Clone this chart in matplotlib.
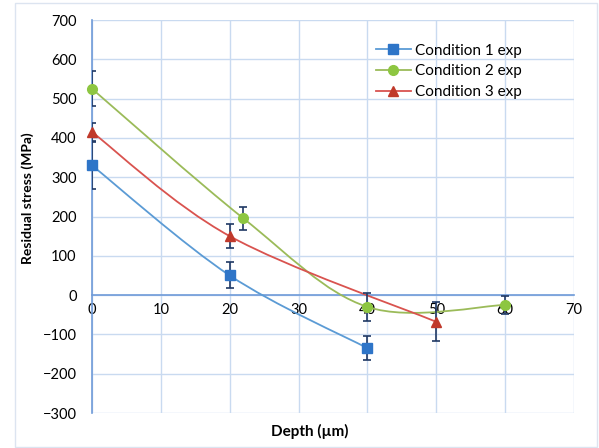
import matplotlib
matplotlib.use("Agg")
import matplotlib.pyplot as plt
from matplotlib.path import Path
from matplotlib.patches import PathPatch, Rectangle
from matplotlib.lines import Line2D
import numpy as np

# data
depth_c1 = [0, 20, 40]
stress_c1 = [330, 50, -135]
err_c1 = [60, 33, 30]

depth_c2 = [0, 22, 40, 60]
stress_c2 = [525, 195, -30, -25]
err_c2 = [45, 30, 35, 22]

depth_c3 = [0, 20, 50]
stress_c3 = [415, 150, -68]
err_c3 = [22, 30, 50]

labels = ["Condition 1 exp", "Condition 2 exp", "Condition 3 exp"]
line_colors = ["#5B9BD5", "#9BBB59", "#D9534F"]
marker_colors = ["#2E75C8", "#8DC641", "#C0392B"]
markers = ["s", "o", "^"]
ERR_COLOR = "#1F3864"
GRID_COLOR = "#C9DAF0"
AXIS_COLOR = "#6F9BD8"

plt.rcParams.update({
    "font.family": ["Lato", "DejaVu Sans"],
    "font.size": 10,
})


def smooth_path(xs, ys, tension=0.5):
    """Excel-style smoothed line: Catmull-Rom converted to cubic Bezier."""
    pts = np.column_stack([np.asarray(xs, float), np.asarray(ys, float)])
    verts = [pts[0]]
    codes = [Path.MOVETO]
    n = len(pts)
    for i in range(n - 1):
        p0 = pts[i - 1] if i > 0 else pts[i]
        p1 = pts[i]
        p2 = pts[i + 1]
        p3 = pts[i + 2] if i + 2 < n else pts[i + 1]
        c1 = p1 + (p2 - p0) * tension / 3
        c2 = p2 - (p3 - p1) * tension / 3
        verts += [c1, c2, p2]
        codes += [Path.CURVE4] * 3
    return Path(verts, codes)


fig = plt.figure(figsize=(5.99, 4.48), dpi=100)

# light chart-area border
fig.patches.append(Rectangle((15 / 599, 1 / 448), 582 / 599, 444 / 448,
                             transform=fig.transFigure, fill=False,
                             edgecolor="#DCE4F0", linewidth=1.0))

ax = fig.add_axes([92 / 599, 1 - 413 / 448, (574 - 92) / 599, (413 - 20) / 448])

series = [
    (depth_c1, stress_c1, err_c1),
    (depth_c2, stress_c2, err_c2),
    (depth_c3, stress_c3, err_c3),
]

handles = []
for (x, y, e), lab, lc, mc, mk in zip(series, labels, line_colors, marker_colors, markers):
    ax.add_patch(PathPatch(smooth_path(x, y), facecolor="none", edgecolor=lc,
                           linewidth=1.3, zorder=3))
    ax.errorbar(x, y, yerr=e, fmt="none", ecolor=ERR_COLOR, elinewidth=1.2,
                capsize=3, capthick=1.2, zorder=4)
    ax.plot(x, y, linestyle="none", marker=mk, markersize=7, color=mc, zorder=5,
            clip_on=False)
    handles.append(Line2D([], [], color=lc, linewidth=1.3, marker=mk,
                          markersize=7, markerfacecolor=mc, markeredgecolor=mc))

ax.set_xlim(0, 70)
ax.set_ylim(-300, 700)
ax.set_xticks(range(0, 71, 10))
ax.set_yticks(range(-300, 701, 100))

ax.grid(True, color=GRID_COLOR, linewidth=1.0, zorder=0)
ax.set_axisbelow(True)

for side in ["top", "right"]:
    ax.spines[side].set_visible(False)
ax.spines["bottom"].set_position(("data", 0))
ax.spines["bottom"].set_color(AXIS_COLOR)
ax.spines["left"].set_color(AXIS_COLOR)
ax.spines["bottom"].set_linewidth(1.2)
ax.spines["left"].set_linewidth(1.2)
ax.tick_params(axis="both", length=0, labelsize=10.5, colors="black")
ax.tick_params(axis="x", pad=6)
ax.tick_params(axis="y", pad=11)

fig.text(310 / 599, 1 - 431 / 448, "Depth (µm)", ha="center", va="center",
         fontsize=11, fontweight="bold")
fig.text(28 / 599, 1 - 198 / 448, "Residual stress (MPa)", ha="center", va="center",
         rotation=90, fontsize=10, fontweight="bold")

ax.legend(handles, labels, loc="upper left", bbox_to_anchor=(0.56, 0.975),
          frameon=False, fontsize=11, handlelength=2.3, labelspacing=0.45,
          handletextpad=0.25)

fig.savefig("out.png", dpi=100)
